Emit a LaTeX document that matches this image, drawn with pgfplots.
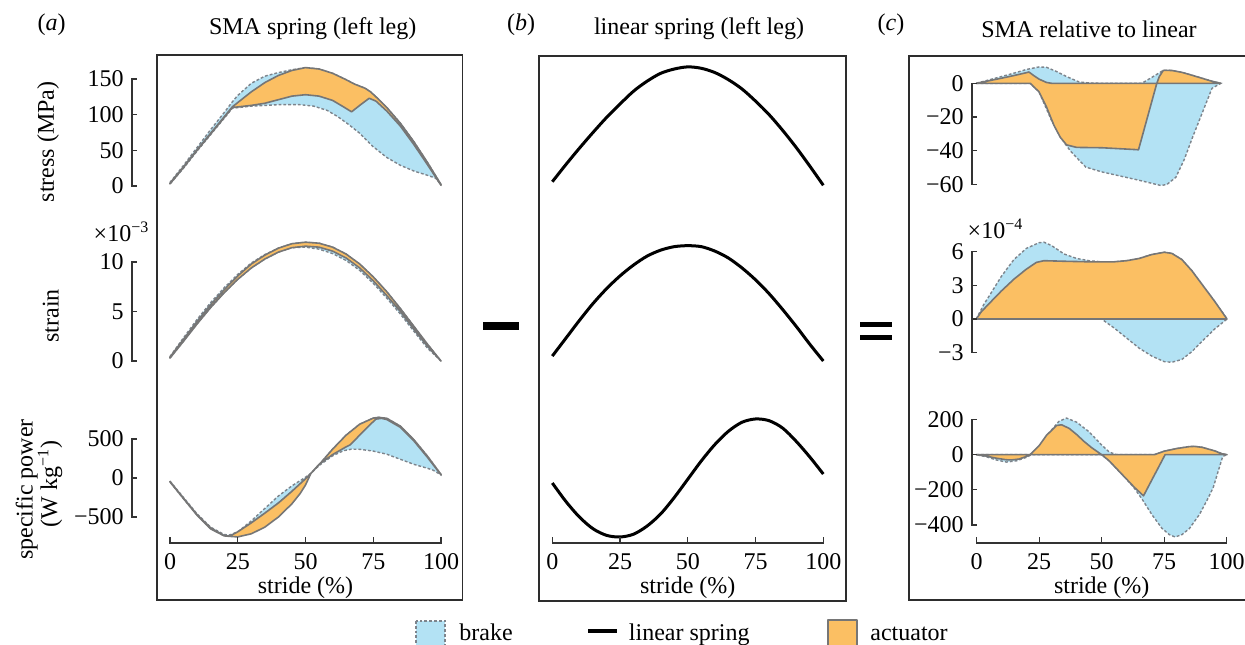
\documentclass[border=0pt]{standalone}
\usepackage{fontspec}
\setmainfont{Liberation Serif}
\usepackage{pgfplots}
\pgfplotsset{compat=1.18}

\definecolor{brakeblue}{RGB}{179,226,244}
\definecolor{actorange}{RGB}{251,191,99}
\definecolor{edgegray}{RGB}{118,118,118}
\definecolor{dashgray}{RGB}{125,132,140}
\definecolor{framegray}{RGB}{45,45,45}

\tikzset{
  brake/.style={fill=brakeblue, draw=dashgray, line width=0.7pt, dash pattern=on 1.4pt off 1pt},
  act/.style={fill=actorange, draw=edgegray, line width=0.8pt, line join=round},
  lin/.style={black, line width=1.5pt, smooth},
}
\pgfplotsset{
  base/.style={scale only axis, clip=false, enlargelimits=false, no markers, anchor=south west,
    tick label style={font=\fontsize{12}{14}\selectfont},
    /pgf/number format/assume math mode=true,
    major tick length=2.6pt,
    tick style={line width=0.6pt, framegray}},
  yax/.style={base, axis y line=left, axis x line=none, xtick=\empty, tick align=inside,
    axis line style={-, line width=0.6pt, draw=framegray}},
  xax/.style={base, axis x line=bottom, axis y line=none, ytick=\empty, tick align=inside,
    axis line style={-, line width=0.6pt, draw=framegray},
    xmin=0, xmax=100, ymin=0, ymax=1, height=1pt, xtick={0,25,50,75,100},
    xlabel={stride (\%)},
    every axis x label/.style={at={(axis description cs:0.5,0)}, anchor=center, yshift=-22.5pt, font=\fontsize{12}{14}\selectfont},
    xticklabel style={yshift=-1pt}},
}

\begin{document}
\fontsize{12}{14}\selectfont
\begin{tikzpicture}
\useasboundingbox (0,0) rectangle (622.5pt,-322pt);

% ---------------- panel (a) ----------------
\begin{axis}[yax, at={(66pt,-93pt)}, width=154.5pt, height=53.5pt,
  xmin=-14.02, xmax=100, ymin=0, ymax=150, ytick={0,50,100,150}]
\addplot[brake] coordinates {(0,5) (5,29) (10,54) (15,79) (20,103) (23,118) (25,127) (30,144) (35,154) (40,159) (45,163) (50,166) (55,164) (60,158) (65,149) (68,143) (72,137) (74,132) (76,125) (80,110) (85,88) (90,62) (95,33) (100,2)
 (98,11) (95,15) (90,21) (85,29) (80,40) (75,55) (70,74) (66,86) (62,97) (58,106) (53,112) (48,114) (40,114) (30,112) (23,109) (20,95) (15,72) (10,49) (5,25) (0,3)} -- cycle;
\addplot[act] coordinates {(0,4) (5,27) (10,51) (15,74) (20,97) (23,111) (25,117) (30,132) (35,145) (40,155) (45,162) (50,166) (55,164) (60,158) (65,149) (68,143) (72,137) (74,132) (76,125) (80,110) (85,88) (90,62) (95,33) (100,2)
 (100,1) (95,30) (90,58) (85,84) (80,105) (76,119) (73.5,123) (70,113) (67,104) (64,111) (60,120) (55,126) (50,128) (45,126) (40,121) (35,116) (30,113) (23,110) (20,96) (15,73) (10,50) (5,26) (0,3)} -- cycle;
\end{axis}

\begin{axis}[yax, at={(66pt,-180.5pt)}, width=154.5pt, height=49.5pt,
  xmin=-14.02, xmax=100, ymin=0, ymax=10, ytick={0,5,10}]
\addplot[brake] coordinates {(0,0.45) (5,2.35) (10,4.2) (15,5.9) (20,7.4) (25,8.75) (30,9.9) (35,10.75) (40,11.4) (45,11.85) (50,12.0) (55,11.9) (60,11.5) (65,10.8) (70,9.8) (75,8.5) (80,7.0) (85,5.3) (90,3.5) (95,1.7) (100,0.0)
 (100,0) (95,1.3) (90,3.0) (85,4.75) (80,6.35) (75,7.85) (70,9.15) (65,10.15) (60,10.85) (55,11.3) (50,11.5) (45,11.45) (40,11.0) (35,10.3) (30,9.4) (25,8.25) (20,6.9) (15,5.4) (10,3.75) (5,2.0) (0,0.3)} -- cycle;
\addplot[act] coordinates {(0,0.4) (5,2.2) (10,4.0) (15,5.7) (20,7.2) (25,8.6) (30,9.8) (35,10.7) (40,11.4) (45,11.85) (50,12.0) (55,11.9) (60,11.5) (65,10.8) (70,9.8) (75,8.5) (80,7.0) (85,5.3) (90,3.5) (95,1.7) (100,0)
 (100,0) (95,1.5) (90,3.2) (85,5.0) (80,6.6) (75,8.1) (70,9.4) (65,10.4) (60,11.1) (55,11.5) (50,11.6) (45,11.45) (40,11.0) (35,10.3) (30,9.4) (25,8.25) (20,6.9) (15,5.4) (10,3.75) (5,2.0) (0,0.3)} -- cycle;
\end{axis}

\begin{axis}[yax, at={(66pt,-258.5pt)}, width=154.5pt, height=39pt,
  xmin=-14.02, xmax=100, ymin=-500, ymax=500, ytick={-500,0,500}, yticklabels={−500,0,500}]
\addplot[brake] coordinates {(0,-40) (5,-250) (10,-460) (15,-630) (20,-725) (22,-730) (25,-690) (30,-550) (35,-390) (40,-230) (45,-100) (50,10) (52,60) (55,170) (60,370) (65,550) (70,690) (75,768) (77,778) (80,765) (85,665) (90,490) (95,280) (100,45)
 (100,40) (97,102) (95,125) (90,175) (85,240) (80,305) (75,345) (70,368) (67,370) (64,350) (60,285) (55,160) (52,60) (50,-10) (45,-170) (40,-320) (35,-450) (30,-575) (25,-690) (22,-745) (20,-740) (15,-650) (10,-475) (5,-265) (0,-50)} -- cycle;
\addplot[act] coordinates {(0,-45) (5,-260) (10,-470) (15,-640) (20,-738) (22,-745) (25,-690) (30,-575) (35,-450) (40,-320) (45,-170) (50,-10) (52,60) (55,170) (60,370) (65,550) (70,690) (75,768) (77,778) (80,765) (85,665) (90,490) (95,280) (100,45)
 (100,40) (95,265) (90,475) (85,650) (80,750) (78,765) (76,755) (74,690) (70,550) (66.5,425) (65,400) (60,300) (55,175) (52,60) (50,-90) (48,-200) (45,-330) (40,-500) (35,-630) (30,-715) (25,-755) (22,-748) (20,-742) (15,-652) (10,-478) (5,-265) (0,-50)} -- cycle;
\end{axis}

\begin{axis}[xax, at={(85pt,-271.5pt)}, width=135.5pt]
\end{axis}

% ---------------- panel (b) ----------------
\begin{axis}[base, hide axis, at={(276.15pt,-93pt)}, width=135.5pt, height=53.5pt,
  xmin=0, xmax=100, ymin=0, ymax=150]
\addplot[lin] coordinates {(0,6) (5,30) (10,53) (15,75) (20,96) (25,115) (30,133) (35,147) (40,158) (45,164) (50,167) (55,165) (60,159) (65,149) (70,136) (75,119) (80,100) (85,78) (90,54) (95,28) (100,1)};
\end{axis}
\begin{axis}[base, hide axis, at={(276.15pt,-180.5pt)}, width=135.5pt, height=49.5pt,
  xmin=0, xmax=100, ymin=0, ymax=10]
\addplot[lin] coordinates {(0,0.5) (5,2.3) (10,4.1) (15,5.8) (20,7.3) (25,8.6) (30,9.7) (35,10.6) (40,11.2) (45,11.55) (50,11.65) (55,11.55) (60,11.1) (65,10.4) (70,9.4) (75,8.2) (80,6.8) (85,5.2) (90,3.5) (95,1.7) (100,0)};
\end{axis}
\begin{axis}[base, hide axis, at={(276.15pt,-258.5pt)}, width=135.5pt, height=39pt,
  xmin=0, xmax=100, ymin=-500, ymax=500]
\addplot[lin] coordinates {(0,-64) (5,-300) (10,-500) (15,-650) (20,-735) (25,-756) (30,-720) (35,-615) (40,-460) (45,-250) (50,-15) (55,220) (60,430) (65,600) (70,715) (75,757) (80,735) (85,640) (90,470) (95,270) (100,51)};
\end{axis}
\begin{axis}[xax, at={(276.15pt,-271.5pt)}, width=135.5pt]
\end{axis}

% ---------------- panel (c) ----------------
\begin{axis}[yax, at={(486pt,-92.25pt)}, width=127.5pt, height=50.6pt,
  xmin=-1.7, xmax=100, ymin=-60, ymax=0, ytick={-60,-40,-20,0}, yticklabels={−60,−40,−20,0}]
\addplot[brake] coordinates {(0,0) (5,2) (10,4) (15,6) (20,8.2) (25,9.7) (28,9.5) (32,7) (36,4) (41,0.8) (45,0.2) (50,0) (66,0) (70,3.5) (74.6,7.7) (78,7.6) (82,6.5) (86,4.8) (90,3.0) (94,1.2) (97.5,0)
 (94,-3) (90,-18) (86,-33) (83,-45) (79.6,-55.7) (76,-60) (73.6,-60.6) (70,-59.3) (65,-57.5) (59.6,-55.7) (50,-52.5) (43.7,-49.7) (40,-44) (37.5,-40) (35,-35) (30,-22) (25,-5) (21.5,0)} -- cycle;
\addplot[act] coordinates {(0,0) (5,1.5) (10,3) (15,4.6) (20,6.3) (21,6.7) (23,4.5) (25,2.5) (28,0.5) (30,0) (72,0) (73,4) (74.6,7.7) (78,7.6) (82,6.5) (86,4.8) (90,3.0) (94,1.2) (97.5,0)
 (72,0) (64.7,-39.4) (60,-39) (50,-38.2) (40,-38) (36,-36.5) (33.5,-32) (31,-25) (28,-14) (25,-5) (21.5,0)} -- cycle;
\end{axis}

\begin{axis}[yax, at={(486pt,-176.35pt)}, width=127.5pt, height=50.5pt,
  xmin=-1.7, xmax=100, ymin=-3, ymax=6, ytick={-3,0,3,6}, yticklabels={−3,0,3,6}]
\addplot[brake] coordinates {(0,0) (3,1.3) (5,2.0) (10,3.8) (15,5.3) (20,6.3) (25,6.8) (27,6.85) (30,6.55) (35,5.8) (40,5.4) (45,5.2) (50,5.1) (55,5.1) (60,5.2) (65,5.4) (70,5.75) (75,5.95) (78,5.85) (82,5.3) (86,4.3) (90,3.1) (95,1.6) (100,0)
 (95,-0.9) (90,-2.0) (86,-2.9) (82,-3.6) (78,-3.85) (75,-3.8) (70,-3.3) (65,-2.6) (60,-1.7) (55,-0.8) (50,0)} -- cycle;
\addplot[act] coordinates {(0,0) (2,0.65) (5,1.35) (10,2.5) (15,3.55) (20,4.45) (24,5.05) (27,5.2) (35,5.15) (45,5.1) (55,5.1) (60,5.2) (65,5.4) (70,5.75) (75,5.95) (78,5.85) (82,5.3) (86,4.3) (90,3.1) (95,1.6) (100,0)} -- cycle;
\end{axis}

\begin{axis}[yax, at={(486pt,-262.5pt)}, width=127.5pt, height=52.75pt,
  xmin=-1.7, xmax=100, ymin=-400, ymax=200, ytick={-400,-200,0,200}, yticklabels={−400,−200,0,200}]
\addplot[brake] coordinates {(0,0) (21.5,0) (25,40) (30,140) (33,190) (36,208) (40,185) (45,130) (50,55) (53,15) (56,0) (71,0) (75,20) (80,35) (85,46) (87,47) (90,42) (95,22) (98,5) (100,0)
 (98.3,-10) (97,-70) (94.5,-187) (92,-260) (89,-340) (85,-420) (82,-455) (79.3,-468) (77,-455) (74,-418) (70,-340) (66,-250) (63,-190) (60,-140) (57,-95) (53,-35) (50,0) (22,0) (20,-15) (16,-35) (12,-42) (8,-30) (4,-12)} -- cycle;
\addplot[act] coordinates {(0,0) (21.5,0) (25,50) (28,110) (32,166) (34,170) (37,150) (40,115) (43,75) (46,40) (50,0) (71,0) (75,20) (80,35) (85,46) (87,47) (90,42) (95,22) (98,5) (100,0)
 (75.3,0) (73,-63) (70,-144) (66.7,-234) (63,-185) (60,-140) (57,-95) (53,-35) (50,0) (21.5,0) (20,-10) (17,-25) (14,-30) (12,-29) (8,-20) (4,-8)} -- cycle;
\end{axis}

\begin{axis}[xax, at={(488.35pt,-271.5pt)}, width=125pt]
\end{axis}

% ---------------- axis lines and ticks (range frames), as thin filled bars ----------------
% panel (a) y axes
\fill[black!80] (65.7pt,-93.3pt) rectangle (66.3pt,-39.2pt);
\foreach \t in {-93,-75.17,-57.33,-39.5} \fill[black!80] (65.7pt,{(\t-0.3)*1pt}) rectangle (68.6pt,{(\t+0.3)*1pt});
\fill[black!80] (65.7pt,-180.8pt) rectangle (66.3pt,-130.7pt);
\foreach \t in {-180.5,-155.75,-131} \fill[black!80] (65.7pt,{(\t-0.3)*1pt}) rectangle (68.6pt,{(\t+0.3)*1pt});
\fill[black!80] (65.7pt,-258.8pt) rectangle (66.3pt,-219.2pt);
\foreach \t in {-258.5,-239,-219.5} \fill[black!80] (65.7pt,{(\t-0.3)*1pt}) rectangle (68.6pt,{(\t+0.3)*1pt});
% panel (c) y axes
\fill[black!80] (485.7pt,-92.55pt) rectangle (486.3pt,-41.35pt);
\foreach \t in {-92.25,-75.38,-58.52,-41.65} \fill[black!80] (485.7pt,{(\t-0.3)*1pt}) rectangle (488.6pt,{(\t+0.3)*1pt});
\fill[black!80] (485.7pt,-176.65pt) rectangle (486.3pt,-125.55pt);
\foreach \t in {-176.35,-159.52,-142.68,-125.85} \fill[black!80] (485.7pt,{(\t-0.3)*1pt}) rectangle (488.6pt,{(\t+0.3)*1pt});
\fill[black!80] (485.7pt,-262.8pt) rectangle (486.3pt,-209.45pt);
\foreach \t in {-262.5,-244.92,-227.33,-209.75} \fill[black!80] (485.7pt,{(\t-0.3)*1pt}) rectangle (488.6pt,{(\t+0.3)*1pt});
% x axes
\fill[black!80] (84.7pt,-271.8pt) rectangle (220.8pt,-271.2pt);
\foreach \t in {85,118.875,152.75,186.625,220.5} \fill[black!80] ({(\t-0.3)*1pt},-271.5pt) rectangle ({(\t+0.3)*1pt},-268.5pt);
\fill[black!80] (275.85pt,-271.8pt) rectangle (411.95pt,-271.2pt);
\foreach \t in {276.15,310.025,343.9,377.775,411.65} \fill[black!80] ({(\t-0.3)*1pt},-271.5pt) rectangle ({(\t+0.3)*1pt},-268.5pt);
\fill[black!80] (488.05pt,-271.8pt) rectangle (613.65pt,-271.2pt);
\foreach \t in {488.35,519.6,550.85,582.1,613.35} \fill[black!80] ({(\t-0.3)*1pt},-271.5pt) rectangle ({(\t+0.3)*1pt},-268.5pt);

% ---------------- frames, labels ----------------
\draw[framegray, line width=0.9pt] (78.35pt,-27.5pt) rectangle (231.25pt,-300pt);
\draw[framegray, line width=0.9pt] (269.5pt,-27.85pt) rectangle (423pt,-300.5pt);
\draw[framegray, line width=0.9pt] (454.65pt,-28pt) rectangle (630pt,-300pt);

\node at (25.85pt,-12.5pt) {(\textit{a})};
\node at (260.5pt,-12.5pt) {(\textit{b})};
\node at (445.5pt,-12.5pt) {(\textit{c})};
\node at (156.35pt,-14.5pt) {SMA spring (left leg)};
\node at (349.5pt,-14.5pt) {linear spring (left leg)};
\node at (544.5pt,-14.5pt) {SMA relative to linear};

\node[rotate=90] at (24pt,-70.85pt) {stress (MPa)};
\node[rotate=90] at (25.4pt,-157.9pt) {strain};
\node[rotate=90] at (13.35pt,-244.75pt) {specific power};
\node[rotate=90] at (25pt,-242pt) {(W kg\textsuperscript{−1})};
\node at (60.75pt,-116pt) {×10\textsuperscript{−3}};
\node at (497.75pt,-114.5pt) {×10\textsuperscript{−4}};

% operators
\fill[black] (241.5pt,-161pt) rectangle (259.5pt,-165pt);
\fill[black] (430pt,-161pt) rectangle (446pt,-163.5pt);
\fill[black] (430pt,-167.5pt) rectangle (446pt,-170pt);

% legend
\draw[brake] (208pt,-310.5pt) rectangle (222.5pt,-330pt);
\node[anchor=base west, inner sep=0pt] at (229.5pt,-320pt) {brake};
\draw[black, line width=2pt] (294pt,-315.5pt) -- (308.5pt,-315.5pt);
\node[anchor=base west, inner sep=0pt] at (314.25pt,-320pt) {linear spring};
\draw[act] (414pt,-310pt) rectangle (428.5pt,-330pt);
\node[anchor=base west, inner sep=0pt] at (435pt,-320pt) {actuator};
\end{tikzpicture}
\end{document}
